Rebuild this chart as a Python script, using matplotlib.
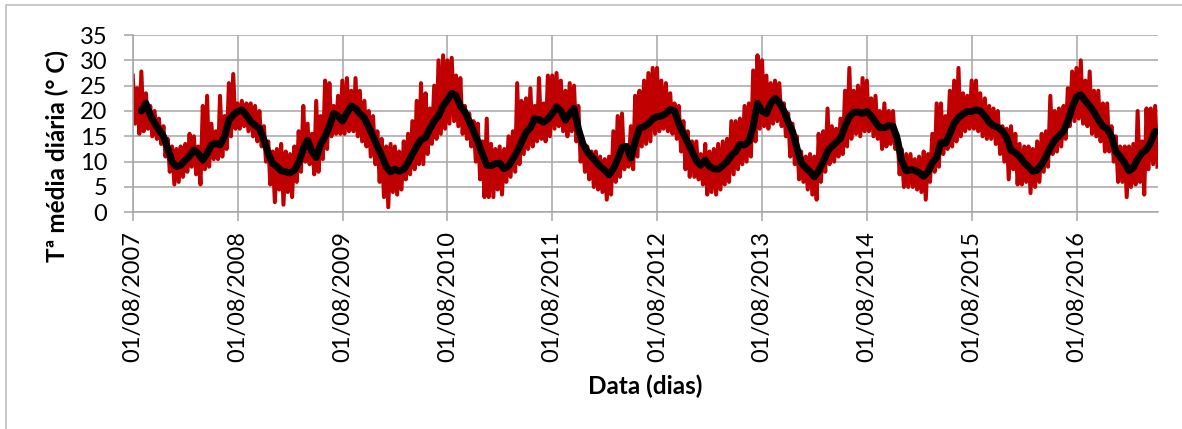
import numpy as np
import matplotlib.pyplot as plt
from matplotlib.patches import Rectangle

plt.rcParams['font.family'] = ['Lato', 'DejaVu Sans']

# valores quinzenais (a partir de 01/08/2007)
# linha preta: media movel
suave = [np.nan, np.nan, 20.0, 21.5, 19.2, 17.6, 16.3, 15.0, 12.6, 10.0, 9.0, 9.3, 10.3, 11.1, 12.3, 11.6, 10.3, 11.6, 13.3, 13.6, 13.3, 15.0, 18.2, 19.2,
         19.9, 20.2, 19.2, 17.9, 17.2, 16.6, 14.3, 11.6, 9.7, 9.0, 8.2, 8.0, 7.8, 8.3, 9.8, 12.5, 14.2, 12.0, 10.8, 13.4, 15.0, 17.0, 19.5, 19.0,
         18.0, 19.6, 21.0, 20.5, 19.5, 18.6, 16.8, 15.0, 13.0, 11.2, 9.0, 8.0, 8.5, 8.1, 8.5, 9.8, 11.5, 13.0, 14.3, 14.8, 16.5, 18.0, 19.0, 21.0,
         22.2, 23.5, 23.0, 21.0, 19.8, 18.0, 16.0, 14.0, 11.5, 9.3, 9.2, 9.6, 9.7, 8.6, 9.2, 10.5, 12.0, 13.8, 15.8, 16.7, 18.5, 18.3, 17.8, 18.4,
         19.5, 20.8, 20.0, 18.2, 19.5, 20.5, 16.5, 13.5, 12.0, 11.0, 10.0, 9.1, 8.3, 7.4, 8.6, 10.5, 12.8, 13.0, 10.7, 14.0, 16.6, 16.9, 17.5, 18.4,
         18.9, 19.0, 19.5, 20.3, 20.0, 17.5, 15.5, 13.8, 12.0, 10.2, 9.3, 10.3, 9.0, 8.6, 8.5, 9.2, 10.0, 11.2, 12.0, 13.4, 13.3, 14.0, 17.0, 21.5,
         20.0, 19.5, 21.5, 22.5, 21.7, 20.0, 17.8, 16.0, 12.8, 9.8, 8.8, 8.0, 7.0, 8.2, 10.0, 12.0, 13.0, 13.8, 14.6, 17.0, 18.9, 19.7, 19.8, 19.5,
         19.9, 19.0, 17.8, 16.7, 16.7, 17.1, 17.0, 14.5, 10.2, 8.2, 8.4, 8.3, 7.8, 7.1, 8.0, 9.8, 10.8, 13.8, 13.6, 15.5, 17.6, 18.7, 19.4, 19.9,
         19.9, 20.2, 20.0, 19.0, 17.8, 17.1, 16.8, 16.0, 14.8, 12.2, 11.8, 11.0, 9.8, 9.0, 8.1, 8.3, 9.5, 11.0, 12.8, 14.2, 15.1, 16.0, 18.0, 20.6,
         22.8, 23.2, 22.0, 21.0, 19.8, 18.3, 17.0, 16.5, 15.0, 12.0, 11.0, 9.7, 8.2, 8.8, 10.5, 11.8, 12.4, 13.8, 16.0]

# linha vermelha: maximos e minimos diarios em cada quinzena
t_max = [27.0, 24.5, 27.8, 23.5, 21.0, 20.0, 18.5, 17.0, 14.5, 13.0, 12.5, 13.0, 13.5, 15.5, 15.0, 13.0, 21.0, 23.0, 17.5, 16.0, 23.0, 19.0, 25.5, 27.3,
         21.5, 22.0, 21.5, 21.5, 21.0, 20.0, 17.0, 14.0, 12.0, 12.5, 13.5, 12.0, 11.5, 13.0, 16.0, 21.0, 17.5, 15.5, 22.0, 19.0, 26.0, 25.5, 21.0, 23.0,
         26.0, 26.5, 24.0, 26.5, 24.0, 22.0, 20.0, 19.0, 16.0, 14.5, 13.0, 13.5, 13.0, 12.0, 14.0, 15.5, 18.0, 22.0, 25.5, 23.5, 20.5, 25.0, 30.0, 31.0,
         30.0, 30.5, 27.0, 26.5, 21.0, 19.5, 18.0, 17.5, 14.0, 18.5, 13.5, 12.5, 13.0, 12.5, 15.0, 16.0, 25.5, 22.0, 22.5, 24.5, 21.0, 26.5, 21.5, 27.0,
         27.0, 27.5, 26.0, 24.0, 25.5, 25.0, 21.0, 14.5, 13.0, 12.0, 12.0, 11.0, 10.5, 11.0, 16.0, 19.0, 19.5, 13.0, 17.0, 23.0, 24.0, 26.0, 27.5, 28.5,
         28.5, 26.0, 25.5, 23.5, 21.5, 21.0, 18.0, 16.0, 14.0, 14.0, 11.5, 13.5, 12.0, 12.5, 13.5, 14.0, 14.5, 18.0, 18.0, 18.5, 21.0, 21.5, 28.0, 31.0,
         30.0, 27.0, 25.5, 26.0, 25.5, 21.5, 19.5, 17.5, 15.0, 12.0, 11.0, 11.5, 11.0, 15.5, 16.0, 20.5, 17.0, 16.5, 18.5, 24.0, 28.5, 24.0, 25.0, 26.5,
         26.0, 22.5, 23.0, 20.0, 21.5, 20.0, 20.0, 15.5, 12.5, 11.5, 11.5, 10.5, 11.0, 12.0, 11.5, 15.5, 21.5, 21.5, 19.0, 24.0, 26.0, 28.5, 23.5, 23.0,
         26.0, 26.0, 23.5, 22.5, 21.0, 20.5, 20.0, 17.0, 16.5, 17.0, 15.5, 13.5, 13.0, 13.0, 12.5, 14.0, 15.5, 16.0, 23.0, 20.0, 20.5, 21.0, 24.5, 27.8,
         28.5, 30.0, 26.0, 27.8, 24.0, 24.0, 21.5, 21.5, 17.0, 15.0, 13.0, 13.0, 13.0, 13.5, 20.0, 14.0, 20.5, 20.5, 21.0]
t_min = [17.5, 15.5, 16.0, 16.5, 15.0, 14.5, 13.5, 11.0, 8.0, 5.5, 6.0, 7.0, 8.0, 9.0, 7.5, 5.5, 8.5, 9.0, 10.5, 10.5, 11.0, 12.5, 15.0, 16.5,
         16.5, 17.0, 16.0, 15.0, 14.0, 13.0, 10.0, 5.5, 2.0, 4.5, 1.5, 4.0, 3.0, 6.0, 8.0, 10.0, 9.5, 7.5, 8.0, 10.5, 12.5, 15.0, 15.5, 15.5,
         15.5, 16.0, 16.0, 15.0, 14.0, 13.0, 11.0, 9.5, 6.0, 3.0, 1.0, 4.0, 3.5, 4.5, 6.5, 7.5, 8.5, 9.5, 9.5, 11.5, 13.5, 14.5, 15.5, 16.5,
         17.5, 18.0, 17.0, 15.5, 14.5, 13.0, 10.0, 6.5, 3.0, 3.0, 3.0, 4.5, 3.5, 6.0, 7.0, 8.0, 9.5, 11.5, 12.5, 13.0, 14.0, 14.5, 14.0, 15.0,
         16.5, 17.0, 16.0, 15.0, 16.0, 14.0, 10.0, 8.0, 6.5, 5.0, 4.5, 4.0, 2.5, 3.5, 6.0, 7.0, 8.5, 9.0, 8.5, 11.0, 13.0, 13.5, 14.0, 15.5,
         16.0, 16.5, 16.0, 15.5, 14.5, 12.0, 8.5, 7.0, 7.0, 6.5, 5.5, 3.5, 4.0, 3.5, 4.5, 5.5, 6.0, 7.5, 8.5, 9.5, 10.0, 11.0, 14.0, 16.5,
         17.0, 16.5, 17.5, 18.0, 17.0, 15.0, 11.0, 9.5, 6.5, 6.0, 4.5, 3.5, 2.5, 6.0, 8.0, 9.5, 10.0, 11.0, 11.5, 13.0, 14.5, 15.5, 15.0, 16.0,
         16.0, 15.0, 14.5, 12.5, 13.0, 13.5, 12.5, 7.5, 5.0, 5.0, 5.0, 4.5, 4.0, 2.5, 6.0, 8.0, 9.0, 11.5, 12.5, 13.0, 14.0, 15.0, 16.0, 16.5,
         16.5, 16.0, 15.0, 14.5, 14.5, 13.5, 11.5, 10.0, 6.5, 8.5, 5.5, 5.5, 6.0, 3.8, 5.0, 6.0, 8.0, 9.0, 11.5, 12.0, 13.0, 14.5, 17.0, 18.0,
         18.5, 17.5, 17.0, 15.5, 15.0, 14.0, 12.0, 12.0, 10.0, 6.0, 6.0, 3.0, 5.0, 5.5, 6.0, 3.5, 8.5, 9.5, 9.0]

anos = list(range(2007, 2017))
rotulos = ['01/08/%d' % a for a in anos]

inicio = np.datetime64('2007-08-01')
n = len(suave)
dias_s = inicio + np.round(np.arange(n) * 365.25 / 24).astype('timedelta64[D]')
dias_v = inicio + np.round(np.arange(2 * n) * 365.25 / 48).astype('timedelta64[D]')
diaria = np.empty(2 * n)
diaria[0::2] = t_max
diaria[1::2] = t_min

fig = plt.figure(figsize=(11.82, 4.29), dpi=100)
ax = fig.add_axes([0.1123, 0.5051, 0.8674, 0.4133])

ax.plot(dias_v, diaria, '-', color='#c00000', lw=2.9, zorder=2)
ax.plot(dias_s, suave, '-', color='black', lw=5.0, solid_capstyle='round',
        solid_joinstyle='round', zorder=3)

ax.set_ylim(0, 35)
ax.set_yticks(range(0, 36, 5))
ax.set_xlim(inicio, np.datetime64('2017-05-11'))
ax.set_xticks([np.datetime64('%d-08-01' % a) for a in anos])
ax.set_xticklabels(rotulos, rotation=90)

ax.grid(True, color='#a6a6a6', lw=1.1)
ax.set_axisbelow(True)
for s in ['top', 'right']:
    ax.spines[s].set_visible(False)
for s in ['left', 'bottom']:
    ax.spines[s].set_color('#a6a6a6')
    ax.spines[s].set_linewidth(1.1)
ax.tick_params(axis='both', color='#a6a6a6', length=6.2, width=1.1, labelsize=17)
ax.tick_params(axis='x', pad=7)
ax.tick_params(axis='y', pad=12)

fig.text(57 / 1182, 1 - 156 / 429, 'Tª média diária (° C)', rotation=90,
         ha='center', va='center', fontsize=17.5, fontweight='bold')
fig.text(645 / 1182, 1 - 386 / 429, 'Data (dias)', ha='center', va='center',
         fontsize=17.5, fontweight='bold')

fig.patches.append(Rectangle((6 / 1182, -0.1), 1.2, 1 - 5.5 / 429 + 0.1,
                             transform=fig.transFigure, fill=False,
                             edgecolor='#bfbfbf', lw=1.2))

fig.savefig('out.png', dpi=100)
